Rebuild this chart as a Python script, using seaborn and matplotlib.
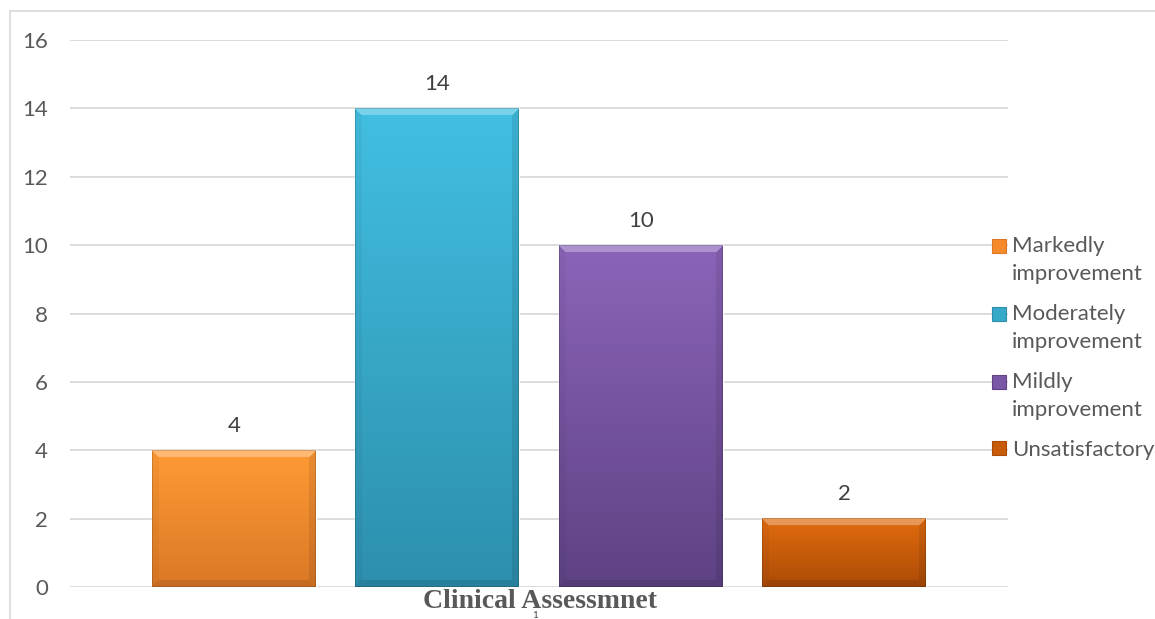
import numpy as np
import pandas as pd
import matplotlib
matplotlib.use("Agg")
import matplotlib.pyplot as plt
import seaborn as sns
from matplotlib.colors import to_rgb
from matplotlib.patches import Rectangle, Patch
from matplotlib.legend_handler import HandlerBase

# ---- data ----
categories = ["Markedly\nimprovement", "Moderately\nimprovement",
              "Mildly\nimprovement", "Unsatisfactory"]
counts = [4, 14, 10, 2]
group_label = ["1"]
y_ticks = [0, 2, 4, 6, 8, 10, 12, 14, 16]
x_title = "Clinical Assessmnet"

# ---- styling ----
top_colors = ["#FF9B35", "#42BFE2", "#8C64BA", "#E26C0E"]
base_colors = ["#F58B2C", "#37A9C9", "#7A56A6", "#C75C0A"]
bottom_colors = ["#DB7826", "#2D8FAD", "#5E4283", "#AB4B07"]
GRID = "#D9D9D9"
TEXT = "#595959"
FS = 16

sns.set_theme(style="white")
plt.rcParams["font.family"] = ["Lato", "DejaVu Sans"]

W_PX, H_PX = 1155, 619
fig = plt.figure(figsize=(W_PX / 100, H_PX / 100), dpi=100)
ax = fig.add_axes([70 / W_PX, 1 - 587 / H_PX, 938 / W_PX, 547 / H_PX])

df = pd.DataFrame({"category": categories, "count": counts})
sns.barplot(data=df, x="category", y="count", hue="category",
            palette=base_colors, width=0.806, saturation=1,
            legend=False, ax=ax, zorder=2)

ax.set_xlim(-0.805, 3.805)
ax.set_ylim(y_ticks[0], y_ticks[-1])
ax.set_yticks(y_ticks)
ax.yaxis.grid(True, color=GRID, linewidth=1.3)
ax.set_axisbelow(True)
for s in ax.spines.values():
    s.set_visible(False)
ax.tick_params(axis="y", length=0, pad=16, labelcolor=TEXT, labelsize=FS)
ax.set_ylabel("")

# single category group label under the bars
ax.set_xticks([1.48])
ax.set_xticklabels(group_label)
ax.tick_params(axis="x", length=0, pad=17, labelcolor="#404040", labelsize=7)

ax.set_xlabel(x_title, fontsize=20, fontweight="bold", color=TEXT,
              family=["Liberation Serif", "DejaVu Serif"])
ax.xaxis.set_label_coords(0.501, -0.027)
ax.xaxis.label.set_va("center")


def bevel_image(top, bottom, w_px, h_px, bevel=7):
    top = np.array(to_rgb(top))
    bottom = np.array(to_rgb(bottom))
    H = max(int(round(h_px)), 2)
    W = max(int(round(w_px)), 2)
    t = np.linspace(0, 1, H)[:, None, None]
    img = np.broadcast_to(top * (1 - t) + bottom * t, (H, W, 3)).copy()
    yy, xx = np.mgrid[0:H, 0:W]
    d = np.stack([yy + 0.5, H - yy - 0.5, xx + 0.5, W - xx - 0.5])
    nearest = d.argmin(0)
    dmin = d.min(0)
    shade = np.array([0.30, -0.10, -0.04, -0.09])
    s = np.where(dmin < bevel, shade[nearest], 0.0)[..., None]
    img = np.where(s > 0, img + (1 - img) * s, img * (1 + s))
    img[dmin < 1.2] *= 0.85
    return np.clip(img, 0, 1)


# shaded bevelled faces drawn over each bar
bars = [p for p in ax.patches]
px_per_x = ax.bbox.width / (ax.get_xlim()[1] - ax.get_xlim()[0])
px_per_y = ax.bbox.height / (ax.get_ylim()[1] - ax.get_ylim()[0])
for i, p in enumerate(bars):
    x0, w, h = p.get_x(), p.get_width(), p.get_height()
    img = bevel_image(top_colors[i], bottom_colors[i], w * px_per_x, h * px_per_y)
    ax.imshow(img, extent=(x0, x0 + w, 0, h), aspect="auto", origin="upper",
              interpolation="bilinear", zorder=2.5)
ax.set_xlim(-0.805, 3.805)
ax.set_ylim(y_ticks[0], y_ticks[-1])

for c in ax.containers:
    ax.bar_label(c, padding=10.5, fontsize=FS, color="#404040", zorder=4)


# legend: marker aligned with the first line of each label
class FirstLineHandler(HandlerBase):
    def __init__(self, face, edge, nlines):
        super().__init__()
        self.face, self.edge, self.nlines = face, edge, nlines

    def create_artists(self, legend, orig_handle, xdescent, ydescent,
                       width, height, fontsize, trans):
        shift = 0.5 * (self.nlines - 1) * 1.3 * fontsize
        r = Rectangle((-xdescent, -ydescent + shift), width, height,
                      facecolor=self.face, edgecolor=self.edge, lw=0.8,
                      transform=trans)
        return [r]


handles, hmap = [], {}
for i, lab in enumerate(categories):
    h = Patch(facecolor=base_colors[i])
    handles.append(h)
    hmap[h] = FirstLineHandler(base_colors[i], bottom_colors[i], lab.count("\n") + 1)

leg = fig.legend(handles, categories, handler_map=hmap, loc="upper left",
                 bbox_to_anchor=(992 / W_PX, 1 - 236 / H_PX), frameon=False,
                 fontsize=FS, labelcolor=TEXT, borderpad=0, borderaxespad=0,
                 handlelength=0.62, handleheight=0.62, handletextpad=0.28,
                 labelspacing=0.9)
for t in leg.get_texts():
    t.set_linespacing(1.5)

# outer chart frame
fig.add_artist(Rectangle((10 / W_PX, -0.1), 1.2, 1.1 - 11 / H_PX,
                         transform=fig.transFigure, fill=False,
                         edgecolor=GRID, lw=1.2))

fig.savefig("out.png", dpi=100)
